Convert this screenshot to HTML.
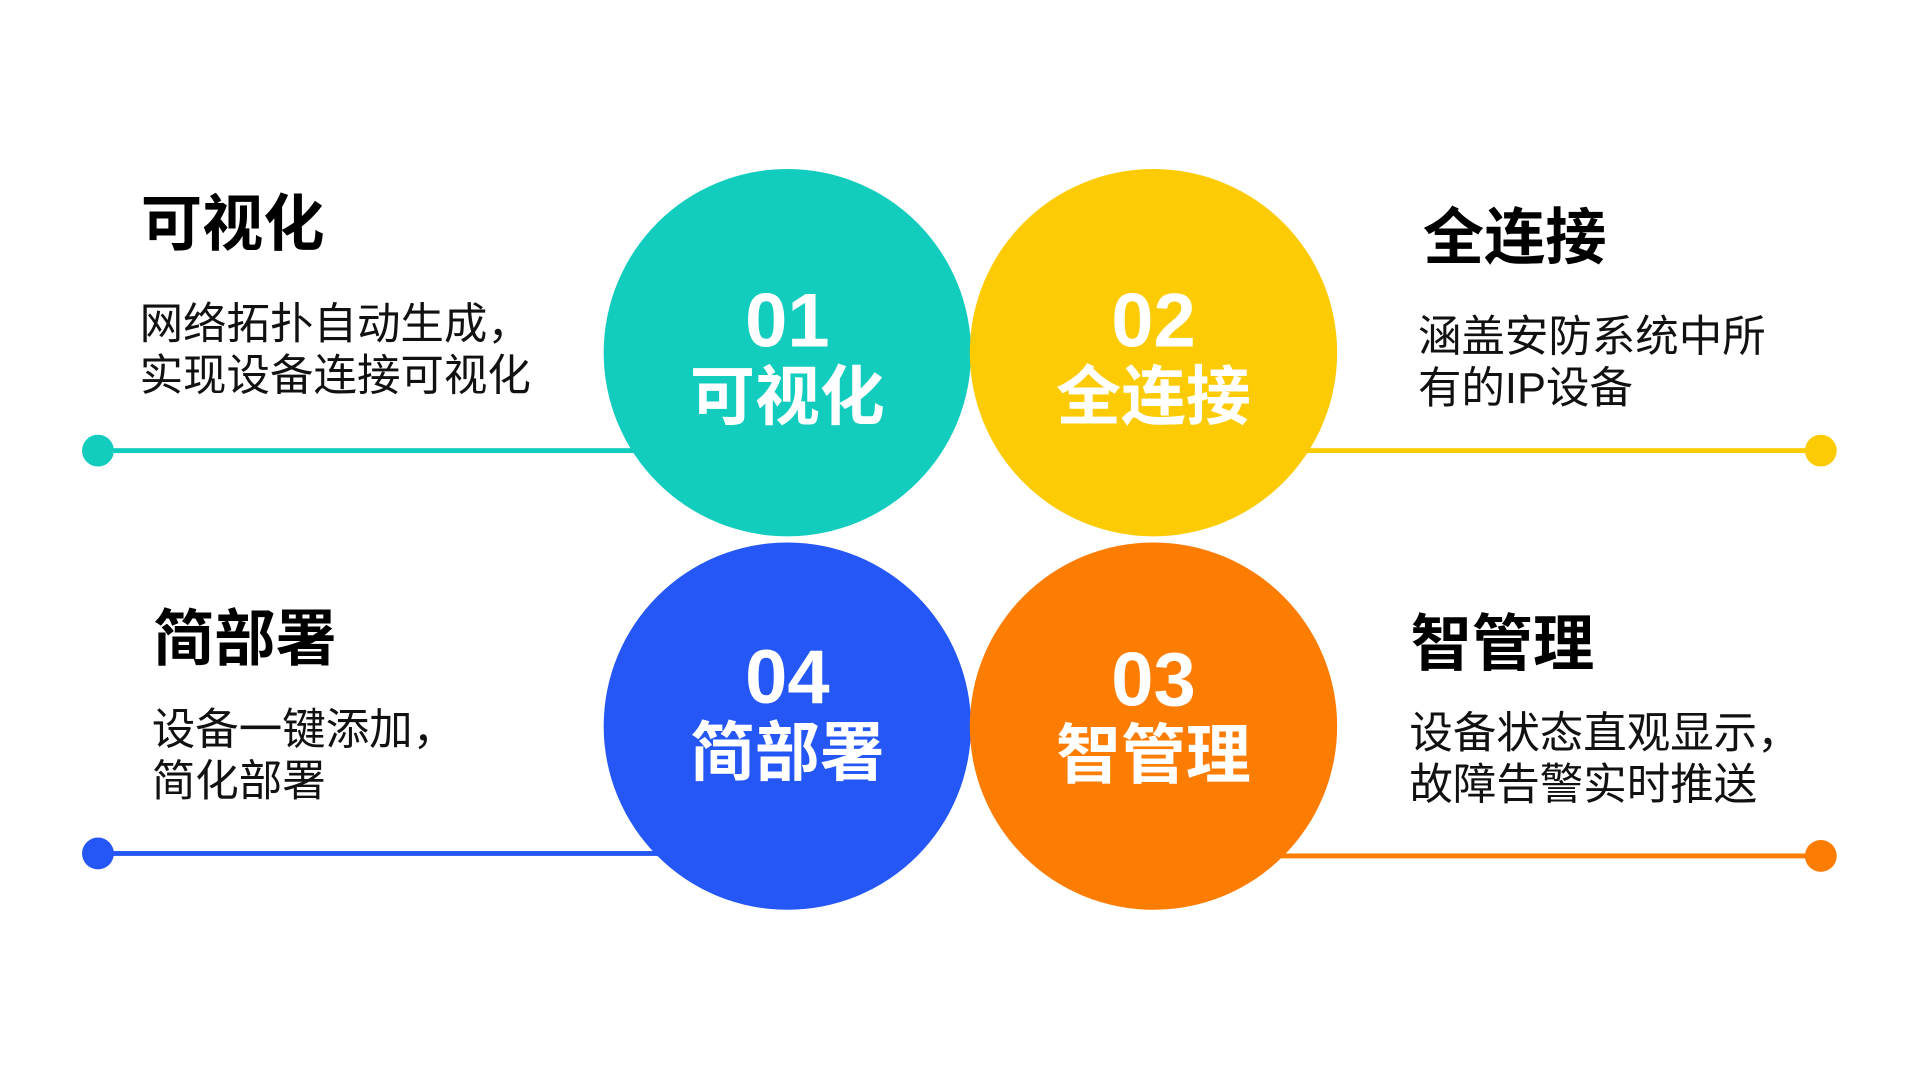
<!DOCTYPE html>
<html><head><meta charset="utf-8"><style>
html,body{margin:0;padding:0;background:#fff;width:1920px;height:1080px;overflow:hidden}
#s{position:absolute;left:0;top:0;width:1568px;height:882px;transform:scale(1.22449);transform-origin:0 0;font-family:"Liberation Sans","Noto Sans CJK SC",sans-serif}
.c{position:absolute;width:300px;height:300px;border-radius:50%;color:#fff;text-align:center}
.n{position:absolute;left:0;right:0;font-size:62px;font-weight:bold;line-height:1}
.l{position:absolute;left:0;right:0;font-size:53px;font-weight:bold;line-height:1}
.ln{position:absolute;height:4px}
.d{position:absolute;width:26px;height:26px;border-radius:50%}
.t{position:absolute;font-size:50px;font-weight:bold;color:#000;line-height:1;white-space:nowrap}
.p{position:absolute;font-size:35.5px;color:#111;line-height:42px;white-space:nowrap}
</style></head><body><div id="s">
<div class="ln" style="left:80px;top:366px;width:450px;background:#12CCBE"></div>
<div class="d" style="left:67px;top:355px;background:#12CCBE"></div>
<div class="ln" style="left:1050px;top:366px;width:437px;background:#FCCB04"></div>
<div class="d" style="left:1474px;top:355px;background:#FCCB04"></div>
<div class="ln" style="left:80px;top:695px;width:470px;background:#2457F5"></div>
<div class="d" style="left:67px;top:684px;background:#2457F5"></div>
<div class="ln" style="left:1030px;top:697px;width:457px;background:#FD7C02"></div>
<div class="d" style="left:1474px;top:686px;background:#FD7C02"></div>

<div class="c" style="left:493px;top:138px;background:#12CCBE"><div class="n" style="top:94px">01</div><div class="l" style="top:160px">可视化</div></div>
<div class="c" style="left:792px;top:138px;background:#FCCB04"><div class="n" style="top:94px">02</div><div class="l" style="top:160px">全连接</div></div>
<div class="c" style="left:493px;top:443px;background:#2457F5"><div class="n" style="top:80px">04</div><div class="l" style="top:146px">简部署</div></div>
<div class="c" style="left:792px;top:443px;background:#FD7C02"><div class="n" style="top:82px">03</div><div class="l" style="top:148px">智管理</div></div>

<div class="t" style="left:115px;top:158px">可视化</div>
<div class="p" style="left:114px;top:244px">网络拓扑自动生成，<br>实现设备连接可视化</div>
<div class="t" style="left:1162px;top:169px">全连接</div>
<div class="p" style="left:1158px;top:254px">涵盖安防系统中所<br>有的IP设备</div>
<div class="t" style="left:125px;top:497px">简部署</div>
<div class="p" style="left:124px;top:575px">设备一键添加，<br>简化部署</div>
<div class="t" style="left:1152px;top:501px">智管理</div>
<div class="p" style="left:1151px;top:578px">设备状态直观显示，<br>故障告警实时推送</div>
</div></body></html>
